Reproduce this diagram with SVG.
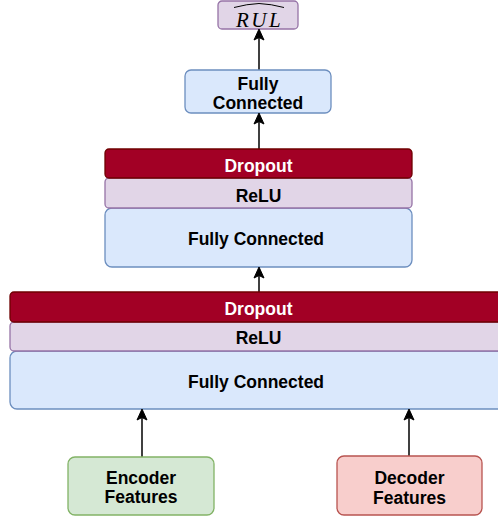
<svg xmlns="http://www.w3.org/2000/svg" width="498" height="519" viewBox="0 0 498 519">
  <defs>
    <style>
      .lbl { font-family: "Liberation Sans", Arial, sans-serif; font-weight: bold; font-size: 17.5px; text-anchor: middle; fill: #000; }
      .lbl-w { fill: #ffffff; }
      .fc { fill: #dae8fc; stroke: #6c8ebf; stroke-width: 1.3; }
      .relu { fill: #e1d5e7; stroke: #9673a6; stroke-width: 1.3; }
      .drop { fill: #a20025; stroke: #6f0000; stroke-width: 1.3; }
      .enc { fill: #d5e8d4; stroke: #82b366; stroke-width: 1.3; }
      .dec { fill: #f8cecc; stroke: #b85450; stroke-width: 1.3; }
      .edge { fill: none; stroke: #000; stroke-width: 1.5; }
      .head { fill: #000; stroke: #000; stroke-width: 1; stroke-linejoin: miter; }
      .math { font-family: "Liberation Serif", "Times New Roman", serif; font-style: italic; font-size: 21px; text-anchor: middle; fill: #000; }
    </style>
  </defs>

  <!-- connectors -->
  <g id="connectors">
    <line class="edge" x1="259" y1="70" x2="259" y2="36"/>
    <line class="edge" x1="259" y1="149" x2="259" y2="120"/>
    <line class="edge" x1="259" y1="292" x2="259" y2="274"/>
    <line class="edge" x1="142" y1="457" x2="142" y2="416"/>
    <line class="edge" x1="409" y1="456" x2="409" y2="416"/>
  </g>

  <!-- output node -->
  <g id="rul">
    <rect x="218" y="1" width="80" height="28" rx="4" class="relu"/>
    <text x="259.5" y="27" class="math" letter-spacing="2.5">RUL</text>
    <path d="M234,7.5 Q247,4 259,3.5 Q271,4 284,7.5" fill="none" stroke="#000" stroke-width="1"/>
  </g>

  <!-- head: single fully connected layer -->
  <g id="fc-head">
    <rect x="185" y="70" width="146" height="43" rx="6" class="fc"/>
    <text x="258" y="90" class="lbl">Fully</text>
    <text x="258" y="109" class="lbl">Connected</text>
  </g>

  <!-- middle block -->
  <g id="block-2">
    <rect x="105" y="208" width="307" height="59" rx="7" class="fc"/>
    <rect x="105" y="178" width="307" height="30" rx="4" class="relu"/>
    <rect x="105" y="149" width="307" height="29" rx="4" class="drop"/>
    <text x="258.5" y="172" class="lbl lbl-w">Dropout</text>
    <text x="258.5" y="202" class="lbl">ReLU</text>
    <text x="256" y="245" class="lbl">Fully Connected</text>
  </g>

  <!-- lower block -->
  <g id="block-1">
    <rect x="10" y="351" width="497" height="58" rx="7" class="fc"/>
    <rect x="10" y="322" width="497" height="29" rx="4" class="relu"/>
    <rect x="10" y="292" width="497" height="30" rx="4" class="drop"/>
    <text x="258.5" y="315" class="lbl lbl-w">Dropout</text>
    <text x="258.5" y="344" class="lbl">ReLU</text>
    <text x="256" y="388" class="lbl">Fully Connected</text>
  </g>

  <!-- inputs -->
  <g id="encoder">
    <rect x="68" y="457" width="146" height="58" rx="7" class="enc"/>
    <text x="141" y="484" class="lbl">Encoder</text>
    <text x="141" y="503" class="lbl">Features</text>
  </g>
  <g id="decoder">
    <rect x="337" y="456" width="145" height="59" rx="7" class="dec"/>
    <text x="409.5" y="484" class="lbl">Decoder</text>
    <text x="409.5" y="504" class="lbl">Features</text>
  </g>

  <!-- arrowheads drawn over the box edges -->
  <g id="arrowheads">
    <path class="head" d="M259,29 L264,40 L259,37.5 L254,40 Z"/>
    <path class="head" d="M259,113 L264,124 L259,121.5 L254,124 Z"/>
    <path class="head" d="M259,267 L264,278 L259,275.5 L254,278 Z"/>
    <path class="head" d="M142,409 L147,420 L142,417.5 L137,420 Z"/>
    <path class="head" d="M409,409 L414,420 L409,417.5 L404,420 Z"/>
  </g>
</svg>
